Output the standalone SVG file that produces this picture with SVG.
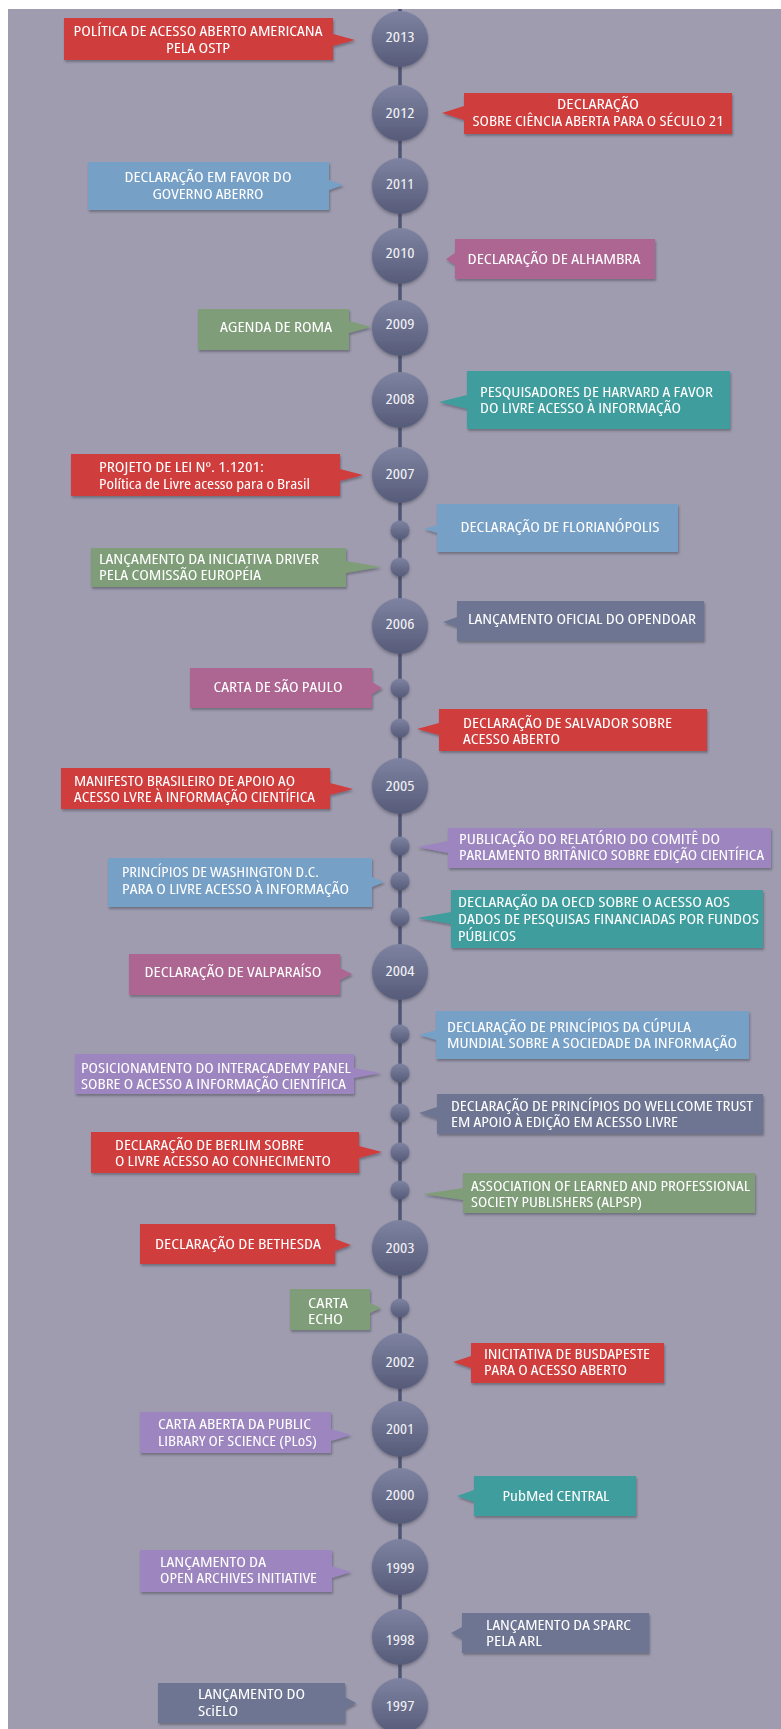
<svg xmlns="http://www.w3.org/2000/svg" width="781" height="1729" viewBox="0 0 781 1729">
<style>
.t{font-family:"Liberation Sans Narrow","Open Sans","Liberation Sans",sans-serif;font-size:14px;font-stretch:75%;fill:#ffffff;}
.c{text-anchor:middle;}
.yr{font-family:"Liberation Sans Narrow","Open Sans","Liberation Sans",sans-serif;font-size:14px;font-stretch:75%;fill:#f2f2f6;text-anchor:middle;}
.red{fill:#d03c3d;}
.blue{fill:#77a0c7;}
.pink{fill:#ad6592;}
.green{fill:#7f9d79;}
.teal{fill:#3f9d9e;}
.slate{fill:#6e7593;}
.purple{fill:#9d86bf;}
.box{filter:url(#sh);}
.yc{fill:url(#yg);filter:url(#csh);}
.dot{fill:url(#yg);filter:url(#csh);}
</style>
<defs>
<filter id="sh" x="-10%" y="-20%" width="120%" height="150%">
<feDropShadow dx="1" dy="2" stdDeviation="1.2" flood-color="#3a3a4a" flood-opacity="0.45"/>
</filter>
<filter id="csh" x="-30%" y="-30%" width="160%" height="160%">
<feDropShadow dx="0" dy="2" stdDeviation="1.5" flood-color="#3a3a4a" flood-opacity="0.45"/>
</filter>
<linearGradient id="yg" x1="0" y1="0" x2="0" y2="1">
<stop offset="0" stop-color="#7e83a1"/>
<stop offset="1" stop-color="#565b79"/>
</linearGradient>
</defs>
<rect x="0" y="0" width="781" height="1729" fill="#ffffff"/>
<rect x="8" y="9" width="773" height="1720" fill="#9e9cae"/>

<g id="connectors">
<line x1="400" y1="9" x2="400" y2="1729" stroke="#4f5574" stroke-width="3.5"/>
</g>

<!-- year circles -->
<g id="y2013"><circle class="yc" cx="400" cy="39" r="28"/><text class="yr" x="400" y="42" textLength="29" lengthAdjust="spacingAndGlyphs">2013</text></g>
<g id="y2012"><circle class="yc" cx="400" cy="113" r="28"/><text class="yr" x="400" y="118" textLength="29" lengthAdjust="spacingAndGlyphs">2012</text></g>
<g id="y2011"><circle class="yc" cx="400" cy="186" r="28"/><text class="yr" x="400" y="189" textLength="28" lengthAdjust="spacingAndGlyphs">2011</text></g>
<g id="y2010"><circle class="yc" cx="400" cy="256" r="28"/><text class="yr" x="400" y="258" textLength="29" lengthAdjust="spacingAndGlyphs">2010</text></g>
<g id="y2009"><circle class="yc" cx="400" cy="328" r="28"/><text class="yr" x="400" y="329" textLength="29" lengthAdjust="spacingAndGlyphs">2009</text></g>
<g id="y2008"><circle class="yc" cx="400" cy="400" r="28"/><text class="yr" x="400" y="404" textLength="29" lengthAdjust="spacingAndGlyphs">2008</text></g>
<g id="y2007"><circle class="yc" cx="400" cy="475" r="28"/><text class="yr" x="400" y="479" textLength="29" lengthAdjust="spacingAndGlyphs">2007</text></g>
<g id="y2006"><circle class="yc" cx="400" cy="626" r="28"/><text class="yr" x="400" y="629" textLength="29" lengthAdjust="spacingAndGlyphs">2006</text></g>
<g id="y2005"><circle class="yc" cx="400" cy="786" r="28"/><text class="yr" x="400" y="791" textLength="29" lengthAdjust="spacingAndGlyphs">2005</text></g>
<g id="y2004"><circle class="yc" cx="400" cy="972" r="28"/><text class="yr" x="400" y="976" textLength="29" lengthAdjust="spacingAndGlyphs">2004</text></g>
<g id="y2003"><circle class="yc" cx="400" cy="1248" r="28"/><text class="yr" x="400" y="1253" textLength="29" lengthAdjust="spacingAndGlyphs">2003</text></g>
<g id="y2002"><circle class="yc" cx="400" cy="1361" r="28"/><text class="yr" x="400" y="1367" textLength="29" lengthAdjust="spacingAndGlyphs">2002</text></g>
<g id="y2001"><circle class="yc" cx="400" cy="1429" r="28"/><text class="yr" x="400" y="1434" textLength="28" lengthAdjust="spacingAndGlyphs">2001</text></g>
<g id="y2000"><circle class="yc" cx="400" cy="1496" r="28"/><text class="yr" x="400" y="1500" textLength="29" lengthAdjust="spacingAndGlyphs">2000</text></g>
<g id="y1999"><circle class="yc" cx="400" cy="1567" r="28"/><text class="yr" x="400" y="1573" textLength="29" lengthAdjust="spacingAndGlyphs">1999</text></g>
<g id="y1998"><circle class="yc" cx="400" cy="1637" r="28"/><text class="yr" x="400" y="1645" textLength="29" lengthAdjust="spacingAndGlyphs">1998</text></g>
<g id="y1997"><circle class="yc" cx="400" cy="1706" r="28"/><text class="yr" x="400" y="1711" textLength="29" lengthAdjust="spacingAndGlyphs">1997</text></g>

<!-- small dots -->
<g id="dots">
<circle class="dot" cx="400" cy="530" r="9.5"/>
<circle class="dot" cx="400" cy="567" r="9.5"/>
<circle class="dot" cx="400" cy="688" r="9.5"/>
<circle class="dot" cx="400" cy="728" r="9.5"/>
<circle class="dot" cx="400" cy="846" r="9.5"/>
<circle class="dot" cx="400" cy="881" r="9.5"/>
<circle class="dot" cx="400" cy="917" r="9.5"/>
<circle class="dot" cx="400" cy="1034" r="9.5"/>
<circle class="dot" cx="400" cy="1073" r="9.5"/>
<circle class="dot" cx="400" cy="1113" r="9.5"/>
<circle class="dot" cx="400" cy="1152" r="9.5"/>
<circle class="dot" cx="400" cy="1190" r="9.5"/>
<circle class="dot" cx="400" cy="1308" r="9.5"/>
</g>

<!-- left boxes -->
<g id="ev-ostp" class="box">
<path class="red" d="M64,18 H333 V34 L355,40 L333,46 V60 H64 Z"/>
<text class="t c" x="198" y="36" textLength="249" lengthAdjust="spacingAndGlyphs">POLÍTICA DE ACESSO ABERTO AMERICANA</text>
<text class="t c" x="198" y="53" textLength="64" lengthAdjust="spacingAndGlyphs">PELA OSTP</text>
</g>
<g id="ev-governo" class="box">
<path class="blue" d="M88,162 H329 V180 L343,185 L329,190 V210 H88 Z"/>
<text class="t c" x="208" y="182" textLength="167" lengthAdjust="spacingAndGlyphs">DECLARAÇÃO EM FAVOR DO</text>
<text class="t c" x="208" y="199" textLength="111" lengthAdjust="spacingAndGlyphs">GOVERNO ABERRO</text>
</g>
<g id="ev-roma" class="box">
<path class="green" d="M198,309 H349 V321 L371,327 L349,333 V350 H198 Z"/>
<text class="t c" x="276" y="332" textLength="112" lengthAdjust="spacingAndGlyphs">AGENDA DE ROMA</text>
</g>
<g id="ev-projeto" class="box">
<path class="red" d="M71,454 H340 V469 L363,475 L340,481 V496 H71 Z"/>
<text class="t" x="99" y="472" textLength="165" lengthAdjust="spacingAndGlyphs">PROJETO DE LEI  Nº. 1.1201:</text>
<text class="t" x="99" y="489" textLength="211" lengthAdjust="spacingAndGlyphs">Política de Livre acesso para o Brasil</text>
</g>
<g id="ev-driver" class="box">
<path class="green" d="M91,548 H346 V561 L381,567 L346,573 V587 H91 Z"/>
<text class="t" x="99" y="564" textLength="220" lengthAdjust="spacingAndGlyphs">LANÇAMENTO DA INICIATIVA DRIVER</text>
<text class="t" x="99" y="580" textLength="162" lengthAdjust="spacingAndGlyphs">PELA COMISSÃO EUROPÉIA</text>
</g>
<g id="ev-saopaulo" class="box">
<path class="pink" d="M190,668 H372 V682 L382,688 L372,694 V708 H190 Z"/>
<text class="t c" x="278" y="692" textLength="129" lengthAdjust="spacingAndGlyphs">CARTA DE SÃO PAULO</text>
</g>
<g id="ev-manifesto" class="box">
<path class="red" d="M61,768 H330 V783 L353,789 L330,795 V809 H61 Z"/>
<text class="t" x="74" y="786" textLength="221" lengthAdjust="spacingAndGlyphs">MANIFESTO BRASILEIRO DE APOIO AO</text>
<text class="t" x="74" y="802" textLength="241" lengthAdjust="spacingAndGlyphs">ACESSO LVRE À INFORMAÇÃO CIENTÍFICA</text>
</g>
<g id="ev-washington" class="box">
<path class="blue" d="M108,858 H372 V877 L384,882 L372,887 V907 H108 Z"/>
<text class="t" x="122" y="877" textLength="197" lengthAdjust="spacingAndGlyphs">PRINCÍPIOS DE WASHINGTON D.C.</text>
<text class="t" x="122" y="894" textLength="227" lengthAdjust="spacingAndGlyphs">PARA O LIVRE ACESSO À INFORMAÇÃO</text>
</g>
<g id="ev-valparaiso" class="box">
<path class="pink" d="M129,954 H340 V968 L352,974 L340,980 V995 H129 Z"/>
<text class="t c" x="233" y="977" textLength="177" lengthAdjust="spacingAndGlyphs">DECLARAÇÃO DE VALPARAÍSO</text>
</g>
<g id="ev-interacademy" class="box">
<path class="purple" d="M75,1054 H354 V1068 L381,1073 L354,1078 V1094 H75 Z"/>
<text class="t" x="81" y="1073" textLength="270" lengthAdjust="spacingAndGlyphs">POSICIONAMENTO DO INTERACADEMY PANEL</text>
<text class="t" x="81" y="1089" textLength="265" lengthAdjust="spacingAndGlyphs">SOBRE O ACESSO A INFORMAÇÃO CIENTÍFICA</text>
</g>
<g id="ev-berlim" class="box">
<path class="red" d="M91,1132 H359 V1146 L382,1152 L359,1158 V1173 H91 Z"/>
<text class="t" x="115" y="1150" textLength="189" lengthAdjust="spacingAndGlyphs">DECLARAÇÃO DE BERLIM SOBRE</text>
<text class="t" x="115" y="1166" textLength="216" lengthAdjust="spacingAndGlyphs">O LIVRE ACESSO AO CONHECIMENTO</text>
</g>
<g id="ev-bethesda" class="box">
<path class="red" d="M140,1224 H335 V1239 L351,1245 L335,1251 V1264 H140 Z"/>
<text class="t c" x="238" y="1249" textLength="166" lengthAdjust="spacingAndGlyphs">DECLARAÇÃO DE BETHESDA</text>
</g>
<g id="ev-echo" class="box">
<path class="green" d="M290,1289 H370 V1303 L381,1308 L370,1313 V1330 H290 Z"/>
<text class="t" x="308" y="1308" textLength="40" lengthAdjust="spacingAndGlyphs">CARTA</text>
<text class="t" x="308" y="1324" textLength="35" lengthAdjust="spacingAndGlyphs">ECHO</text>
</g>
<g id="ev-plos" class="box">
<path class="purple" d="M140,1412 H331 V1429 L351,1435 L331,1441 V1453 H140 Z"/>
<text class="t" x="158" y="1429" textLength="153" lengthAdjust="spacingAndGlyphs">CARTA ABERTA DA PUBLIC</text>
<text class="t" x="158" y="1446" textLength="159" lengthAdjust="spacingAndGlyphs">LIBRARY OF SCIENCE (PLoS)</text>
</g>
<g id="ev-oai" class="box">
<path class="purple" d="M140,1550 H332 V1566 L351,1572 L332,1578 V1592 H140 Z"/>
<text class="t" x="160" y="1567" textLength="106" lengthAdjust="spacingAndGlyphs">LANÇAMENTO DA</text>
<text class="t" x="160" y="1583" textLength="157" lengthAdjust="spacingAndGlyphs">OPEN ARCHIVES INITIATIVE</text>
</g>
<g id="ev-scielo" class="box">
<path class="slate" d="M158,1683 H345 V1697 L356,1703 L345,1709 V1723 H158 Z"/>
<text class="t" x="198" y="1699" textLength="107" lengthAdjust="spacingAndGlyphs">LANÇAMENTO DO</text>
<text class="t" x="198" y="1716" textLength="40" lengthAdjust="spacingAndGlyphs">SciELO</text>
</g>

<!-- right boxes -->
<g id="ev-seculo21" class="box">
<path class="red" d="M464,93 H732 V134 H464 V120 L442,113 L464,106 Z"/>
<text class="t c" x="598" y="109" textLength="82" lengthAdjust="spacingAndGlyphs">DECLARAÇÃO</text>
<text class="t c" x="598" y="126" textLength="251" lengthAdjust="spacingAndGlyphs">SOBRE CIÊNCIA ABERTA PARA O SÉCULO 21</text>
</g>
<g id="ev-alhambra" class="box">
<path class="pink" d="M455,239 H655 V279 H455 V265 L446,259 L455,253 Z"/>
<text class="t c" x="554" y="264" textLength="173" lengthAdjust="spacingAndGlyphs">DECLARAÇÃO DE ALHAMBRA</text>
</g>
<g id="ev-harvard" class="box">
<path class="teal" d="M467,371 H730 V429 H467 V409 L439,402 L467,395 Z"/>
<text class="t" x="480" y="397" textLength="233" lengthAdjust="spacingAndGlyphs">PESQUISADORES DE HARVARD A FAVOR</text>
<text class="t" x="480" y="413" textLength="201" lengthAdjust="spacingAndGlyphs">DO LIVRE ACESSO À INFORMAÇÃO</text>
</g>
<g id="ev-florianopolis" class="box">
<path class="blue" d="M437,504 H678 V552 H437 V533 L424,529 L437,525 Z"/>
<text class="t c" x="560" y="532" textLength="199" lengthAdjust="spacingAndGlyphs">DECLARAÇÃO DE FLORIANÓPOLIS</text>
</g>
<g id="ev-opendoar" class="box">
<path class="slate" d="M457,601 H704 V641 H457 V627 L443,622 L457,617 Z"/>
<text class="t c" x="582" y="624" textLength="228" lengthAdjust="spacingAndGlyphs">LANÇAMENTO OFICIAL DO OPENDOAR</text>
</g>
<g id="ev-salvador" class="box">
<path class="red" d="M439,709 H707 V751 H439 V735 L417,729 L439,723 Z"/>
<text class="t" x="463" y="728" textLength="209" lengthAdjust="spacingAndGlyphs">DECLARAÇÃO DE SALVADOR SOBRE</text>
<text class="t" x="463" y="744" textLength="97" lengthAdjust="spacingAndGlyphs">ACESSO ABERTO</text>
</g>
<g id="ev-britanico" class="box">
<path class="purple" d="M448,828 H771 V868 H448 V853 L417,847 L448,841 Z"/>
<text class="t" x="459" y="844" textLength="261" lengthAdjust="spacingAndGlyphs">PUBLICAÇÃO DO RELATÓRIO DO COMITÊ DO</text>
<text class="t" x="459" y="860" textLength="305" lengthAdjust="spacingAndGlyphs">PARLAMENTO BRITÂNICO SOBRE EDIÇÃO CIENTÍFICA</text>
</g>
<g id="ev-oecd" class="box">
<path class="teal" d="M451,890 H763 V948 H451 V924 L417,918 L451,912 Z"/>
<text class="t" x="458" y="907" textLength="272" lengthAdjust="spacingAndGlyphs">DECLARAÇÃO DA OECD SOBRE O ACESSO AOS</text>
<text class="t" x="458" y="924" textLength="301" lengthAdjust="spacingAndGlyphs">DADOS  DE PESQUISAS FINANCIADAS POR FUNDOS</text>
<text class="t" x="458" y="941" textLength="58" lengthAdjust="spacingAndGlyphs">PÚBLICOS</text>
</g>
<g id="ev-cupula" class="box">
<path class="blue" d="M436,1011 H749 V1059 H436 V1040 L419,1035 L436,1030 Z"/>
<text class="t" x="447" y="1032" textLength="244" lengthAdjust="spacingAndGlyphs">DECLARAÇÃO DE PRINCÍPIOS DA CÚPULA</text>
<text class="t" x="447" y="1048" textLength="290" lengthAdjust="spacingAndGlyphs">MUNDIAL SOBRE A SOCIEDADE DA INFORMAÇÃO</text>
</g>
<g id="ev-wellcome" class="box">
<path class="slate" d="M437,1094 H763 V1134 H437 V1119 L419,1113 L437,1107 Z"/>
<text class="t" x="451" y="1111" textLength="302" lengthAdjust="spacingAndGlyphs">DECLARAÇÃO DE PRINCÍPIOS DO WELLCOME TRUST</text>
<text class="t" x="451" y="1127" textLength="227" lengthAdjust="spacingAndGlyphs">EM APOIO À EDIÇÃO EM ACESSO LIVRE</text>
</g>
<g id="ev-alpsp" class="box">
<path class="green" d="M463,1173 H755 V1213 H463 V1200 L423,1194 L463,1188 Z"/>
<text class="t" x="471" y="1191" textLength="279" lengthAdjust="spacingAndGlyphs">ASSOCIATION OF LEARNED AND PROFESSIONAL</text>
<text class="t" x="471" y="1207" textLength="171" lengthAdjust="spacingAndGlyphs">SOCIETY PUBLISHERS (ALPSP)</text>
</g>
<g id="ev-budapeste" class="box">
<path class="red" d="M471,1343 H664 V1383 H471 V1368 L453,1362 L471,1356 Z"/>
<text class="t" x="484" y="1359" textLength="166" lengthAdjust="spacingAndGlyphs">INICITATIVA DE BUSDAPESTE</text>
<text class="t" x="484" y="1375" textLength="143" lengthAdjust="spacingAndGlyphs">PARA O ACESSO ABERTO</text>
</g>
<g id="ev-pubmed" class="box">
<path class="teal" d="M474,1476 H636 V1516 H474 V1502 L457,1496 L474,1490 Z"/>
<text class="t c" x="556" y="1501" textLength="107" lengthAdjust="spacingAndGlyphs">PubMed CENTRAL</text>
</g>
<g id="ev-sparc" class="box">
<path class="slate" d="M462,1613 H649 V1653 H462 V1639 L451,1633 L462,1627 Z"/>
<text class="t" x="486" y="1630" textLength="145" lengthAdjust="spacingAndGlyphs">LANÇAMENTO DA SPARC</text>
<text class="t" x="486" y="1646" textLength="56" lengthAdjust="spacingAndGlyphs">PELA ARL</text>
</g>
</svg>
